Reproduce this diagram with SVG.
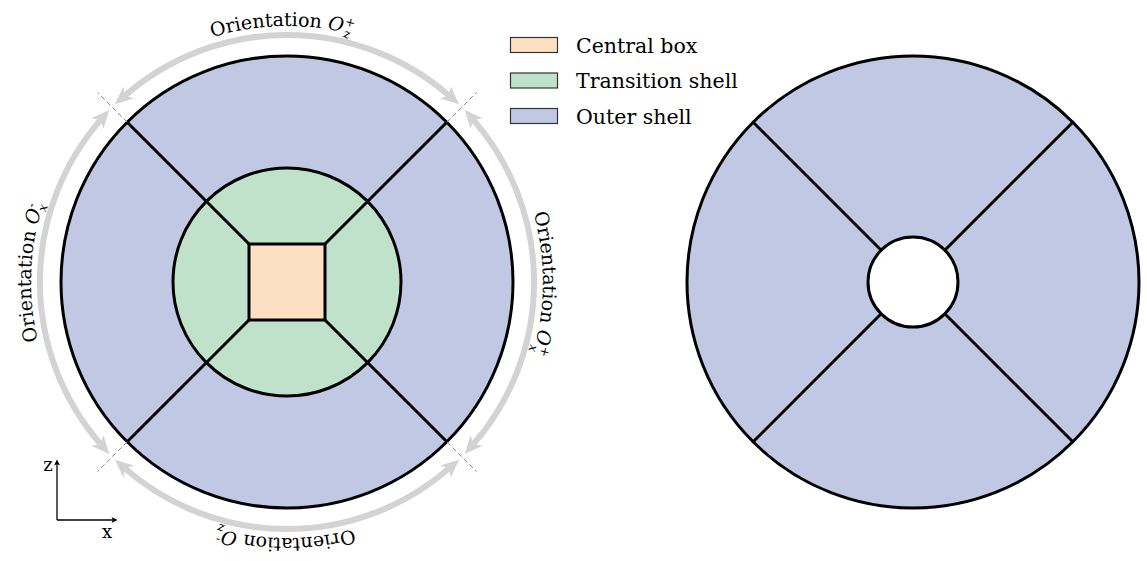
<svg xmlns="http://www.w3.org/2000/svg" width="1147" height="561" viewBox="0 0 1147 561">
<style>
.bd{stroke:#000;stroke-width:3;}
.outer{fill:#c0c8e4;}
.trans{fill:#c0e2cb;}
.box{fill:#fde0c2;}
.hole{fill:#fff;}
.div{stroke:#000;stroke-width:3;fill:none;stroke-linecap:round;}
.arc{fill:none;stroke:#d3d3d3;stroke-width:6;marker-start:url(#ga);marker-end:url(#ga);}
.dash{stroke:#8a8a8a;stroke-width:1;stroke-dasharray:5 3;fill:none;}
.ori{font-family:"DejaVu Serif","Liberation Serif",serif;font-size:19px;fill:#000;}
.it{font-style:italic;}
.sc{font-size:12.5px;}
.leg{font-family:"DejaVu Serif","Liberation Serif",serif;font-size:20.5px;fill:#000;}
.sw{stroke:#333;stroke-width:1.2;}
.ax{stroke:#000;stroke-width:1.3;fill:none;marker-end:url(#ka);}
.axl{font-family:"DejaVu Serif","Liberation Serif",serif;font-size:18px;fill:#000;}
</style>
<defs>
<marker id="ga" markerUnits="userSpaceOnUse" viewBox="-2 -12 24 24" markerWidth="24" markerHeight="24" refX="4.5" refY="0" orient="auto-start-reverse">
<path d="M0,-8 L18,0 L0,8 L4.5,0 Z" fill="#d3d3d3"/>
</marker>
<marker id="ka" markerUnits="userSpaceOnUse" viewBox="-2 -5 10 10" markerWidth="10" markerHeight="10" refX="1.5" refY="0" orient="auto">
<path d="M0,-3 L6,0 L0,3 L1.5,0 Z" fill="#000"/>
</marker>
<path id="tpA" d="M287,538 A256,256 0 0 1 287,26 A256,256 0 0 1 287,538"/>
<path id="tpB" d="M287,26 A256,256 0 0 1 287,538 A256,256 0 0 1 287,26"/>
</defs>

<g id="left-model">
<g id="outer-shell-left">
<circle class="outer bd" cx="287" cy="282" r="226"/>
</g>
<g id="transition-shell">
<circle class="trans bd" cx="287" cy="282" r="114"/>
</g>
<g id="connectors-left">
<line class="div" x1="249" y1="244" x2="127.2" y2="122.2"/>
<line class="div" x1="325" y1="244" x2="446.8" y2="122.2"/>
<line class="div" x1="249" y1="320" x2="127.2" y2="441.8"/>
<line class="div" x1="325" y1="320" x2="446.8" y2="441.8"/>
</g>
<g id="central-box">
<rect class="box bd" x="249" y="244" width="76" height="76"/>
</g>
</g>

<g id="orientations">
<line class="dash" x1="127.2" y1="122.2" x2="97.5" y2="92.5"/>
<line class="dash" x1="446.8" y1="122.2" x2="476.5" y2="92.5"/>
<line class="dash" x1="127.2" y1="441.8" x2="97.5" y2="471.5"/>
<line class="dash" x1="446.8" y1="441.8" x2="476.5" y2="471.5"/>
<path class="arc" d="M125.1,95.4 A247,247 0 0 1 448.9,95.4"/>
<path class="arc" d="M473.6,120.1 A247,247 0 0 1 473.6,443.9"/>
<path class="arc" d="M448.9,468.6 A247,247 0 0 1 125.1,468.6"/>
<path class="arc" d="M100.4,443.9 A247,247 0 0 1 100.4,120.1"/>
<text class="ori"><textPath href="#tpA" startOffset="49.7%" text-anchor="middle">Orientation <tspan class="it">O</tspan><tspan class="sc" dy="-7">+</tspan><tspan class="sc it" dx="-9" dy="12">z</tspan></textPath></text>
<text class="ori"><textPath href="#tpA" startOffset="25.6%" text-anchor="middle">Orientation <tspan class="it">O</tspan><tspan class="sc" dy="-7">-</tspan><tspan class="sc it" dx="-5" dy="12">x</tspan></textPath></text>
<text class="ori"><textPath href="#tpA" startOffset="75.1%" text-anchor="middle">Orientation <tspan class="it">O</tspan><tspan class="sc" dy="-7">+</tspan><tspan class="sc it" dx="-9" dy="12">x</tspan></textPath></text>
<text class="ori"><textPath href="#tpB" startOffset="50.1%" text-anchor="middle">Orientation <tspan class="it">O</tspan><tspan class="sc" dy="-7">-</tspan><tspan class="sc it" dx="-5" dy="12">z</tspan></textPath></text>
</g>

<g id="axes">
<line class="ax" x1="57" y1="520" x2="57" y2="464"/>
<line class="ax" x1="57" y1="520" x2="113" y2="520"/>
<text class="axl" x="48" y="471" text-anchor="middle">z</text>
<text class="axl" x="107" y="538" text-anchor="middle">x</text>
</g>

<g id="legend">
<g id="legend-central">
<rect class="sw box" x="510.5" y="37.5" width="47" height="15"/>
<text class="leg" x="576" y="52.5">Central box</text>
</g>
<g id="legend-transition">
<rect class="sw trans" x="510.5" y="73" width="47" height="15"/>
<text class="leg" x="576" y="88">Transition shell</text>
</g>
<g id="legend-outer">
<rect class="sw outer" x="510.5" y="108.5" width="47" height="15"/>
<text class="leg" x="576" y="123.5">Outer shell</text>
</g>
</g>

<g id="right-model">
<g id="outer-shell-right">
<circle class="outer bd" cx="913" cy="282" r="226"/>
</g>
<g id="connectors-right">
<line class="div" x1="881.2" y1="250.2" x2="753.2" y2="122.2"/>
<line class="div" x1="944.8" y1="250.2" x2="1072.8" y2="122.2"/>
<line class="div" x1="881.2" y1="313.8" x2="753.2" y2="441.8"/>
<line class="div" x1="944.8" y1="313.8" x2="1072.8" y2="441.8"/>
</g>
<g id="inner-hole">
<circle class="hole bd" cx="913" cy="282" r="45"/>
</g>
</g>
</svg>
